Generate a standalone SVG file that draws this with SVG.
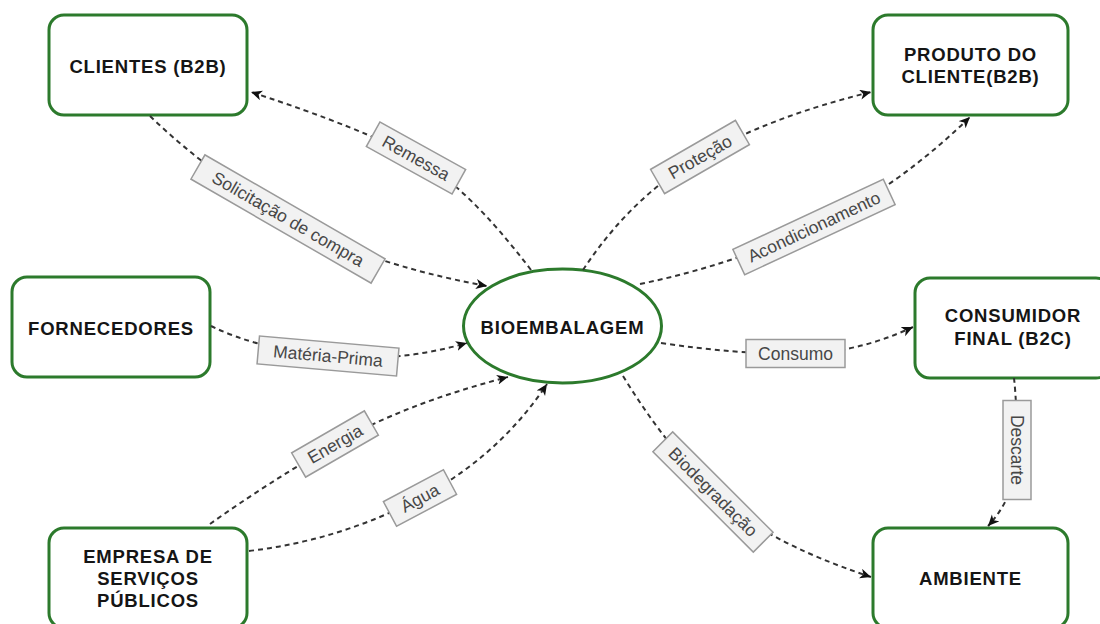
<svg xmlns="http://www.w3.org/2000/svg" width="1100" height="624" viewBox="0 0 1100 624">
  <defs>
    <marker id="arrow" markerUnits="userSpaceOnUse" markerWidth="14" markerHeight="12" refX="11" refY="5" orient="auto">
      <path d="M0,0 L11,5 L0,10 L3,5 Z" fill="#111" stroke="none"/>
    </marker>
    <style>
      .node { fill: #ffffff; stroke: #2c7a2c; stroke-width: 3; }
      .node-text { font-family: "Liberation Sans", Arial, sans-serif; font-size: 18.5px; font-weight: bold; fill: #151515; text-anchor: middle; letter-spacing: 0.8px; }
      .edge { fill: none; stroke: #333333; stroke-width: 2; stroke-dasharray: 5 4; }
      .label-box { fill: #f2f2f2; stroke: #9a9a9a; stroke-width: 1.5; }
      .label-text { font-family: "Liberation Sans", Arial, sans-serif; font-size: 17.5px; fill: #474747; text-anchor: middle; }
    </style>
  </defs>

  <rect width="1100" height="624" fill="#ffffff"/>

  <!-- Nodes -->
  <g id="clientes">
    <rect class="node" x="49" y="15" width="198" height="100" rx="15"/>
    <text class="node-text" x="148" y="73">CLIENTES (B2B)</text>
  </g>

  <g id="produto-cliente">
    <rect class="node" x="873" y="15" width="195" height="100" rx="15"/>
    <text class="node-text" x="970.5" y="61">PRODUTO DO</text>
    <text class="node-text" x="970.5" y="83">CLIENTE(B2B)</text>
  </g>

  <g id="fornecedores">
    <rect class="node" x="12" y="277" width="198" height="100" rx="15"/>
    <text class="node-text" x="111" y="335">FORNECEDORES</text>
  </g>

  <g id="bioembalagem">
    <ellipse class="node" cx="562.5" cy="326" rx="99" ry="57"/>
    <text class="node-text" x="562.5" y="334">BIOEMBALAGEM</text>
  </g>

  <g id="consumidor-final">
    <rect class="node" x="915" y="278" width="196" height="100" rx="15"/>
    <text class="node-text" x="1013" y="322">CONSUMIDOR</text>
    <text class="node-text" x="1013" y="345">FINAL (B2C)</text>
  </g>

  <g id="empresa-servicos">
    <rect class="node" x="49" y="528" width="198" height="100" rx="15"/>
    <text class="node-text" x="148" y="563">EMPRESA DE</text>
    <text class="node-text" x="148" y="585">SERVIÇOS</text>
    <text class="node-text" x="148" y="607">PÚBLICOS</text>
  </g>

  <g id="ambiente">
    <rect class="node" x="873" y="528" width="195" height="100" rx="15"/>
    <text class="node-text" x="970.5" y="585">AMBIENTE</text>
  </g>

  <!-- Connectors with their labels -->
  <g id="connectors">
    <!-- Remessa: BIOEMBALAGEM -> CLIENTES -->
    <path class="edge" d="M531,270 Q468,187 416,158 T251,92" marker-end="url(#arrow)"/>
    <!-- Solicitação de compra: CLIENTES -> BIOEMBALAGEM -->
    <path class="edge" d="M150,116 Q210,174 288,219 T487,286" marker-end="url(#arrow)"/>
    <!-- Matéria-Prima: FORNECEDORES -> BIOEMBALAGEM -->
    <path class="edge" d="M211,326 Q258,349 328,356 T467,343" marker-end="url(#arrow)"/>
    <!-- Energia: EMPRESA -> BIOEMBALAGEM -->
    <path class="edge" d="M210,524 Q266,484 335,444 T508,377" marker-end="url(#arrow)"/>
    <!-- Água: EMPRESA -> BIOEMBALAGEM -->
    <path class="edge" d="M249,551 Q341,540 420,498 T547,384" marker-end="url(#arrow)"/>
    <!-- Proteção: BIOEMBALAGEM -> PRODUTO DO CLIENTE -->
    <path class="edge" d="M583,270 Q631,197 700,157 T871,92" marker-end="url(#arrow)"/>
    <!-- Acondicionamento: BIOEMBALAGEM -> PRODUTO DO CLIENTE -->
    <path class="edge" d="M640,284 Q732,265 814,227 T970,117" marker-end="url(#arrow)"/>
    <!-- Consumo: BIOEMBALAGEM -> CONSUMIDOR FINAL -->
    <path class="edge" d="M661,343 Q735,354 795,354 T913,327" marker-end="url(#arrow)"/>
    <!-- Biodegradação: BIOEMBALAGEM -> AMBIENTE -->
    <path class="edge" d="M623,376 Q664,443 713,492 T871,577" marker-end="url(#arrow)"/>
    <!-- Descarte: CONSUMIDOR FINAL -> AMBIENTE -->
    <path class="edge" d="M1014,378 Q1017,405 1017,450 T988,526" marker-end="url(#arrow)"/>

    <g transform="translate(416,158) rotate(29)">
      <rect class="label-box" x="-49" y="-14" width="98" height="28"/>
      <text class="label-text" y="6">Remessa</text>
    </g>
    <g transform="translate(288,219) rotate(30)">
      <rect class="label-box" x="-104" y="-14" width="208" height="28"/>
      <text class="label-text" y="6">Solicitação de compra</text>
    </g>
    <g transform="translate(328,356) rotate(5)">
      <rect class="label-box" x="-70" y="-14" width="140" height="28"/>
      <text class="label-text" y="6">Matéria-Prima</text>
    </g>
    <g transform="translate(335,444) rotate(-30)">
      <rect class="label-box" x="-42" y="-14" width="84" height="28"/>
      <text class="label-text" y="6">Energia</text>
    </g>
    <g transform="translate(420,498) rotate(-28)">
      <rect class="label-box" x="-34" y="-14" width="68" height="28"/>
      <text class="label-text" y="6">Água</text>
    </g>
    <g transform="translate(700,157) rotate(-30)">
      <rect class="label-box" x="-49" y="-14" width="98" height="28"/>
      <text class="label-text" y="6">Proteção</text>
    </g>
    <g transform="translate(814,227) rotate(-25)">
      <rect class="label-box" x="-83" y="-14" width="166" height="28"/>
      <text class="label-text" y="6">Acondicionamento</text>
    </g>
    <g transform="translate(795.5,353.5)">
      <rect class="label-box" x="-49.5" y="-14" width="99" height="28"/>
      <text class="label-text" y="6">Consumo</text>
    </g>
    <g transform="translate(713,492) rotate(45)">
      <rect class="label-box" x="-71" y="-14" width="142" height="28"/>
      <text class="label-text" y="6">Biodegradação</text>
    </g>
    <g transform="translate(1017,450) rotate(90)">
      <rect class="label-box" x="-49.5" y="-14" width="99" height="28"/>
      <text class="label-text" y="6">Descarte</text>
    </g>
  </g>
</svg>
